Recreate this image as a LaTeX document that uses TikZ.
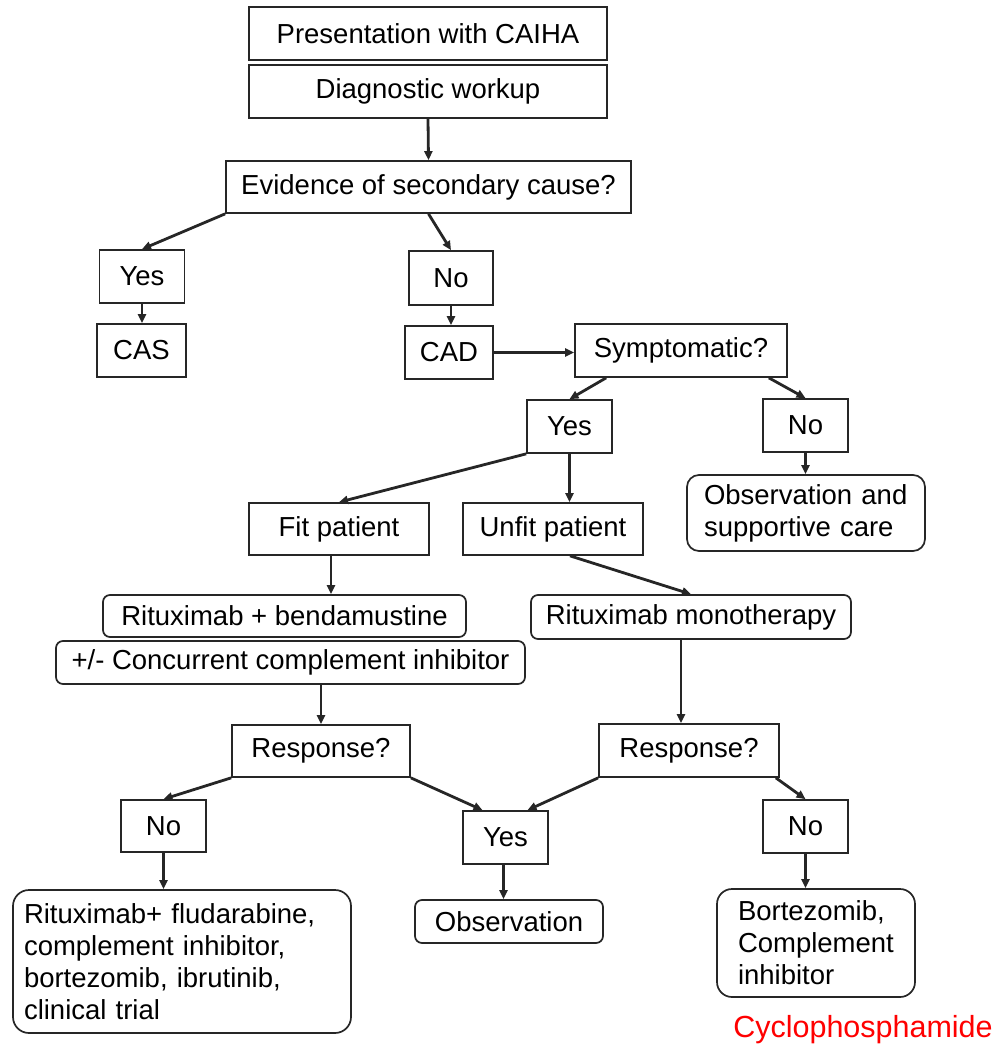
\documentclass[tikz,border=0pt]{standalone}
\usepackage{fontspec}
\setmainfont{Liberation Sans}
\usetikzlibrary{arrows.meta}

\begin{document}
\begin{tikzpicture}
  [x=1pt,y=-1pt,font=\fontsize{27.5}{32}\selectfont]
      \tikzstyle{box_style} = [draw=black!85, line width=1.7pt, inner sep=0pt, align=center]
      \tikzstyle{soft_style} = [box_style, rounded corners=7pt]
      \tikzstyle{edge_style} = [draw=black!85, line width=2.8pt, -{Triangle[length=9pt,width=8pt]}]
  \useasboundingbox (0,0) rectangle (1003,1049);
  % top of the chart
  \node[box_style, minimum width=358, minimum height=53] (pres) at (428,33.5) {Presentation with CAIHA};
  \node[box_style, minimum width=358, minimum height=53] (diag) at (428,91.5) {Diagnostic workup};
  \node[box_style, minimum width=405, minimum height=52] (evid) at (428.5,187) {Evidence of secondary cause?};
  \node[box_style, minimum width=85, minimum height=53] (yesa) at (142,276.5) {Yes};
  \node[box_style, minimum width=89, minimum height=53] (cas) at (141.5,350.5) {CAS};
  \node[box_style, minimum width=84, minimum height=54] (noa) at (451,278) {No};
  \node[box_style, minimum width=88, minimum height=53] (cad) at (449,352.5) {CAD};
  \node[box_style, minimum width=212, minimum height=53] (symp) at (681,350.5) {Symptomatic?};
  \node[box_style, minimum width=85, minimum height=53] (yesb) at (569.5,426.5) {Yes};
  \node[box_style, minimum width=85, minimum height=53] (nob) at (805.5,425.5) {No};
  \node[soft_style, rounded corners=12pt, minimum height=76, text width=204, inner xsep=17pt, align=left] (care) at (806,513) {Observation and\\supportive care};
  % fit / unfit
  \node[box_style, minimum width=180, minimum height=52] (fit) at (339,529) {Fit patient};
  \node[box_style, minimum width=180, minimum height=52] (unfit) at (553,529) {Unfit patient};
  \node[soft_style, minimum width=363, minimum height=42] (benda) at (284.5,616) {Rituximab + bendamustine};
  \node[soft_style, minimum width=469, minimum height=43] (compl) at (290.5,662.5) {+/- Concurrent complement inhibitor};
  \node[soft_style, minimum width=320, minimum height=44] (mono) at (691,617) {Rituximab monotherapy};
  \node[box_style, minimum width=178, minimum height=52] (respa) at (321,751) {Response?};
  \node[box_style, minimum width=180, minimum height=53] (respb) at (689,750.5) {Response?};
  % outcomes
  \node[box_style, minimum width=85, minimum height=52] (noc) at (163.5,826) {No};
  \node[box_style, minimum width=85, minimum height=53] (yesc) at (505.5,837.5) {Yes};
  \node[box_style, minimum width=85, minimum height=53] (nod) at (805.5,826.5) {No};
  \node[soft_style, rounded corners=16pt, minimum height=143, text width=316, inner xsep=11pt, align=left] (fluda) at (182,961.5) {Rituximab+ fludarabine,\\complement inhibitor,\\bortezomib, ibrutinib,\\clinical trial};
  \node[soft_style, minimum width=188, minimum height=43] (obs) at (509,921.5) {Observation};
  \node[soft_style, rounded corners=15pt, minimum height=108, text width=156, inner xsep=21pt, align=left] (bort) at (816,943) {Bortezomib,\\Complement\\inhibitor};
  \node[text=red, font=\fontsize{30.5}{34}\selectfont] (cyclo) at (863,1030) {Cyclophosphamide};
  % connectors
  \draw[edge_style] (diag.south) -- (evid.north);
  \draw[edge_style] (evid.south west) -- (yesa.north);
  \draw[edge_style] (evid.south) -- (noa.north);
  \draw[edge_style] (yesa.south) -- (yesa.south |- cas.north);
  \draw[edge_style] (noa.south) -- (noa.south |- cad.north);
  \draw[edge_style] (cad.east) -- (cad.east -| symp.west);
  \draw[edge_style] ([xshift=32pt]symp.south west) -- (yesb.north);
  \draw[edge_style] ([xshift=-19pt]symp.south east) -- (nob.north);
  \draw[edge_style] (nob.south) -- (nob.south |- care.north);
  \draw[edge_style] (yesb.south west) -- (fit.north);
  \draw[edge_style] (yesb.south) -- (yesb.south |- unfit.north);
  \draw[edge_style] ([xshift=-8pt]fit.south) -- ([xshift=-8pt]fit.south |- benda.north);
  \draw[edge_style] ([xshift=17pt]unfit.south) -- (mono.north);
  \draw[edge_style] (respa.north |- compl.south) -- (respa.north);
  \draw[edge_style] ([xshift=-10pt]mono.south) -- ([xshift=-10pt]mono.south |- respb.north);
  \draw[edge_style] (respa.south west) -- (noc.north);
  \draw[edge_style] (respa.south east) -- ([xshift=-23pt]yesc.north);
  \draw[edge_style] (respb.south west) -- ([xshift=22pt]yesc.north);
  \draw[edge_style] ([xshift=-4pt]respb.south east) -- (nod.north);
  \draw[edge_style] (noc.south) -- (noc.south |- fluda.north);
  \draw[edge_style] ([xshift=-2pt]yesc.south) -- ([xshift=-2pt]yesc.south |- obs.north);
  \draw[edge_style] (nod.south) -- (nod.south |- bort.north);
\end{tikzpicture}
\end{document}
